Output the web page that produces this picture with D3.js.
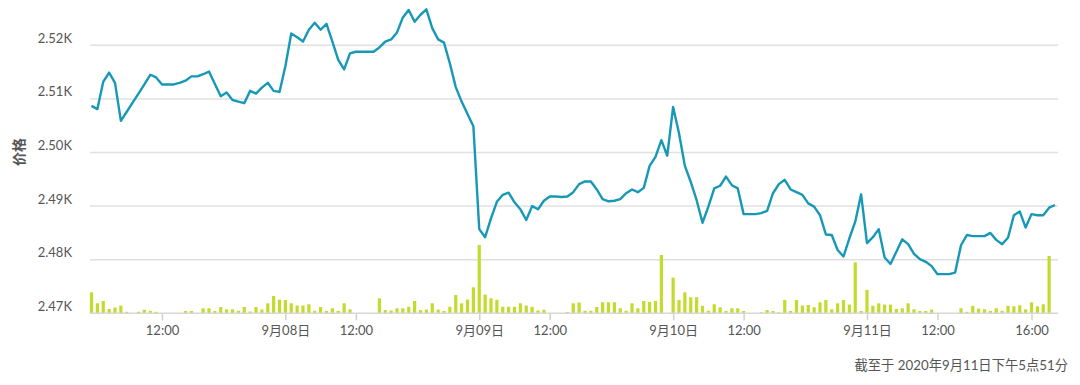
<!DOCTYPE html>
<html>
<head>
<meta charset="utf-8">
<script src="https://cdn.jsdelivr.net/npm/d3@7"></script>
<style>
  body { margin: 0; background: #fff; }
  svg { display: block; font-family: Lato, "Noto Sans CJK SC", sans-serif; }
</style>
</head>
<body>
<svg id="chart" width="1080" height="385"></svg>
<script>
// price per bar (index = bar number)
const price = [
  2508.7, 2508.1, 2513.2, 2514.9, 2513.0, 2505.9, 2507.6, 2509.3, 2511.0, 2512.7,
  2514.5, 2514.0, 2512.7, 2512.7, 2512.7, 2513.0, 2513.4, 2514.2, 2514.2, 2514.6,
  2515.1, 2512.8, 2510.5, 2511.2, 2509.8, 2509.5, 2509.2, 2511.5, 2511.0, 2512.1,
  2513.0, 2511.5, 2511.3, 2516.1, 2522.2, 2521.5, 2520.7, 2522.9, 2524.2, 2522.9,
  2524.0, 2520.7, 2517.3, 2515.5, 2518.5, 2518.8, 2518.8, 2518.8, 2518.8, 2519.6,
  2520.7, 2521.1, 2522.4, 2525.2, 2526.6, 2524.4, 2525.7, 2526.7, 2523.2, 2521.1,
  2520.5, 2516.6, 2512.2, 2509.5, 2507.2, 2504.9, 2485.7, 2484.2, 2487.7, 2490.8,
  2492.1, 2492.5, 2490.7, 2489.4, 2487.4, 2490.0, 2489.4, 2491.0, 2491.8, 2491.8,
  2491.7, 2491.8, 2492.6, 2494.1, 2494.6, 2494.6, 2493.1, 2491.3, 2490.9, 2491.0,
  2491.3, 2492.4, 2493.1, 2492.6, 2493.4, 2497.5, 2499.2, 2502.3, 2499.4, 2508.5,
  2503.6, 2497.5, 2494.5, 2491.1, 2486.9, 2489.9, 2493.3, 2493.8, 2495.5, 2493.9,
  2493.3, 2488.5, 2488.5, 2488.5, 2488.7, 2489.1, 2492.4, 2494.1, 2494.9, 2493.1,
  2492.6, 2492.1, 2490.5, 2489.9, 2488.3, 2484.7, 2484.6, 2481.8, 2480.6, 2484.0,
  2487.1, 2492.2, 2483.1, 2484.2, 2485.7, 2480.4, 2479.2, 2481.5, 2483.8, 2482.9,
  2481.1, 2480.1, 2479.6, 2478.8, 2477.3, 2477.3, 2477.3, 2477.6, 2482.7, 2484.6,
  2484.4, 2484.4, 2484.4, 2485.0, 2483.7, 2482.9, 2484.1, 2488.3, 2489.0, 2486.0,
  2488.5, 2488.3, 2488.3, 2489.7, 2490.2
]

// traded volume per bar (relative units)
const volume = [
  210, 100, 123, 43, 57, 77, 15, 0, 15, 35,
  25, 15, 0, 0, 0, 0, 23, 23, 0, 50,
  50, 23, 63, 40, 40, 25, 63, 18, 63, 38,
  100, 173, 137, 133, 100, 78, 78, 90, 25, 62,
  23, 50, 23, 100, 40, 0, 0, 0, 0, 150,
  32, 28, 50, 50, 65, 123, 32, 37, 100, 37,
  23, 65, 183, 100, 137, 260, 683, 187, 150, 135,
  65, 65, 65, 100, 78, 65, 28, 35, 0, 0,
  0, 13, 100, 108, 25, 25, 63, 110, 110, 110,
  50, 25, 100, 50, 123, 113, 123, 583, 0, 357,
  133, 210, 160, 160, 75, 25, 90, 60, 23, 50,
  50, 23, 0, 0, 10, 33, 23, 10, 133, 23,
  133, 77, 83, 60, 110, 133, 40, 100, 133, 87,
  510, 23, 233, 75, 100, 87, 87, 43, 50, 100,
  40, 23, 23, 37, 0, 0, 0, 0, 50, 15,
  75, 47, 40, 23, 50, 25, 75, 70, 80, 40,
  110, 70, 90, 573, 0
]

const tickIndex = [12, 33, 45, 66, 78, 99, 111, 132, 144, 160]
const tickLabels = ['12:00', '9月08日', '12:00', '9月09日', '12:00', '9月10日', '12:00', '9月11日', '12:00', '16:00']
const priceTicks = [2470, 2480, 2490, 2500, 2510, 2520]
const yTitle = '价格'
const footer = '截至于 2020年9月11日下午5点51分'

const svg = d3.select('#chart')
const left = 90
const right = 1058
const base = 313.3

const x = d3.scaleLinear().domain([0, price.length - 1]).range([91.5, 1055])
const y = d3.scaleLinear().domain([2470, 2520]).range([base, 45.3])
const v = d3.scaleLinear().domain([0, d3.max(volume)]).range([0, 68.3])

// grid
svg.append('g')
  .selectAll('line')
  .data(priceTicks.slice(1))
  .join('line')
  .attr('x1', left).attr('x2', right)
  .attr('y1', d => y(d)).attr('y2', d => y(d))
  .attr('stroke', '#e0e0e0')
  .attr('stroke-width', 1.5)

// y labels
svg.append('g')
  .selectAll('text')
  .data(priceTicks)
  .join('text')
  .attr('x', 72)
  .attr('y', d => y(d) - 7)
  .attr('dy', '0.35em')
  .attr('text-anchor', 'end')
  .attr('fill', '#555')
  .attr('font-size', 13)
  .text(d => d3.format('.3s')(d).replace('k', 'K'))

svg.append('text')
  .attr('transform', 'translate(19,152) rotate(-90)')
  .attr('text-anchor', 'middle')
  .attr('dy', '0.35em')
  .attr('fill', '#555')
  .attr('font-size', 14)
  .attr('font-weight', 'bold')
  .text(yTitle)

// volume bars
svg.append('g')
  .selectAll('rect')
  .data(volume)
  .join('rect')
  .attr('x', (d, i) => x(i) - 1.6)
  .attr('width', 3.2)
  .attr('y', d => base - v(d))
  .attr('height', d => v(d))
  .attr('fill', '#c3db2c')

// x axis
const xAxis = d3.axisBottom(x)
  .tickValues(tickIndex)
  .tickFormat((d, i) => tickLabels[i])
  .tickSize(7)
  .tickPadding(5)
const gx = svg.append('g')
  .attr('transform', `translate(0,${base})`)
  .call(xAxis)
gx.select('.domain').remove()
gx.selectAll('.tick line').attr('stroke', '#d0d0d0').attr('stroke-width', 1.5)
gx.selectAll('.tick text').attr('fill', '#555').attr('font-size', 13)
  .attr('font-family', 'Lato, "Noto Sans CJK SC", sans-serif')
svg.append('line')
  .attr('x1', left).attr('x2', right)
  .attr('y1', base).attr('y2', base)
  .attr('stroke', '#d8d8d8')
  .attr('stroke-width', 1.5)

// price line
svg.append('path')
  .datum(price)
  .attr('fill', 'none')
  .attr('stroke', '#1698b6')
  .attr('stroke-width', 2.4)
  .attr('stroke-linejoin', 'round')
  .attr('d', d3.line().x((d, i) => x(i)).y(d => y(d)))

svg.append('text')
  .attr('x', 1068)
  .attr('y', 365)
  .attr('dy', '0.35em')
  .attr('text-anchor', 'end')
  .attr('fill', '#555')
  .attr('font-size', 13.3)
  .text(footer)
</script>
</body>
</html>
